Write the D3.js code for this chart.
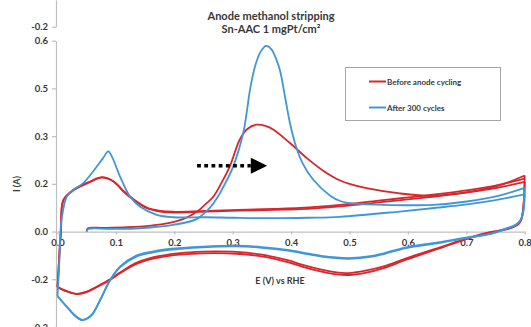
<!DOCTYPE html>
<html>
<head>
<meta charset="utf-8">
<script src="https://cdn.jsdelivr.net/npm/d3@7"></script>
<style>
  html, body { margin: 0; padding: 0; background: #fff; overflow: hidden; }
  svg { display: block; }
  text { font-family: Lato, "Open Sans", sans-serif; font-weight: bold; fill: #383838; }
</style>
</head>
<body>
<div id="chart"></div>
<script>
// ---- Data: potential E (V vs RHE) and current I (A) for each scan ----
const xTickValues = [0, 0.1, 0.2, 0.3, 0.4, 0.5, 0.6, 0.7, 0.8];
const yTickValues = [0.8, 0.6, 0.4, 0.2, 0, -0.2, -0.4];
const yTickLabels = ["0.6", "0.5", "0.3", "0.2", "0.0", "-0.2", "-0.3"];
const topTickValues = [-0.2];
const topTickLabels = ["-0.2"];

const seriesNames = ["Before anode cycling", "After 300 cycles"];

// Before anode cycling
const redForward1 = [[0.050,0.000],[0.052,0.014],[0.08,0.015],[0.12,0.018],[0.16,0.025],[0.19,0.035],[0.215,0.052],[0.24,0.085],[0.255,0.118],[0.267,0.147],[0.281,0.205],[0.295,0.273],[0.312,0.385],[0.325,0.430],[0.341,0.448],[0.356,0.443],[0.370,0.427],[0.398,0.371],[0.427,0.308],[0.455,0.255],[0.472,0.229],[0.484,0.214],[0.500,0.200],[0.529,0.182],[0.586,0.160],[0.643,0.150],[0.701,0.165],[0.758,0.195],[0.800,0.235]];
const redReverse1 = [[0.800,0.235],[0.799,0.150],[0.797,0.090],[0.794,0.050],[0.788,0.030],[0.775,0.015],[0.755,0.004],[0.735,-0.006],[0.700,-0.030],[0.655,-0.066],[0.597,-0.112],[0.560,-0.145],[0.525,-0.165],[0.499,-0.174],[0.475,-0.170],[0.452,-0.160],[0.420,-0.140],[0.394,-0.120],[0.350,-0.097],[0.307,-0.085],[0.270,-0.083],[0.249,-0.084],[0.210,-0.090],[0.191,-0.096],[0.160,-0.110],[0.134,-0.132],[0.107,-0.172],[0.090,-0.200],[0.067,-0.231],[0.050,-0.252],[0.033,-0.261],[0.016,-0.250],[0.000,-0.233]];
const redForward2 = [[0.000,-0.233],[0.002,-0.150],[0.004,-0.060],[0.006,0.000],[0.010,0.133],[0.027,0.175],[0.056,0.210],[0.076,0.228],[0.096,0.210],[0.113,0.168],[0.130,0.133],[0.153,0.098],[0.176,0.084],[0.198,0.080],[0.255,0.084],[0.370,0.091],[0.415,0.094],[0.484,0.106],[0.550,0.122],[0.600,0.135],[0.650,0.148],[0.700,0.163],[0.750,0.182],[0.800,0.208]];
const redReverse2 = [[0.800,0.208],[0.799,0.140],[0.797,0.085],[0.794,0.048],[0.788,0.028],[0.775,0.013],[0.755,0.002],[0.735,-0.008],[0.700,-0.032],[0.655,-0.070],[0.597,-0.118],[0.560,-0.152],[0.525,-0.174],[0.499,-0.182],[0.475,-0.178],[0.452,-0.168],[0.420,-0.148],[0.394,-0.128],[0.350,-0.104],[0.307,-0.093],[0.270,-0.090],[0.249,-0.091],[0.210,-0.097],[0.191,-0.102],[0.160,-0.116],[0.134,-0.137],[0.107,-0.175],[0.090,-0.203],[0.067,-0.233],[0.050,-0.254],[0.033,-0.262],[0.016,-0.251],[0.000,-0.234]];
const redForward3 = [[0.000,-0.234],[0.002,-0.150],[0.004,-0.060],[0.006,0.000],[0.010,0.130],[0.027,0.172],[0.056,0.208],[0.076,0.226],[0.096,0.210],[0.113,0.170],[0.130,0.136],[0.153,0.101],[0.176,0.087],[0.198,0.083],[0.255,0.087],[0.370,0.095],[0.415,0.099],[0.484,0.112],[0.550,0.130],[0.600,0.143],[0.650,0.157],[0.700,0.173],[0.750,0.193],[0.800,0.222]];

// After 300 cycles
const blueForward1 = [[0.050,0.000],[0.052,0.010],[0.090,0.011],[0.141,0.014],[0.198,0.028],[0.238,0.052],[0.261,0.100],[0.278,0.160],[0.290,0.215],[0.301,0.273],[0.318,0.413],[0.324,0.500],[0.330,0.600],[0.338,0.690],[0.347,0.750],[0.357,0.778],[0.366,0.765],[0.375,0.720],[0.381,0.675],[0.390,0.560],[0.398,0.455],[0.408,0.360],[0.420,0.285],[0.438,0.217],[0.467,0.150],[0.484,0.128],[0.501,0.119],[0.557,0.112],[0.643,0.112],[0.701,0.126],[0.758,0.152],[0.800,0.183]];
const blueReverse1 = [[0.800,0.183],[0.799,0.120],[0.797,0.080],[0.793,0.050],[0.785,0.030],[0.770,0.015],[0.742,-0.009],[0.700,-0.025],[0.655,-0.044],[0.597,-0.066],[0.560,-0.090],[0.539,-0.102],[0.499,-0.111],[0.452,-0.102],[0.420,-0.088],[0.394,-0.077],[0.350,-0.065],[0.307,-0.059],[0.249,-0.063],[0.191,-0.073],[0.160,-0.085],[0.134,-0.102],[0.107,-0.147],[0.090,-0.203],[0.073,-0.287],[0.060,-0.345],[0.052,-0.362],[0.042,-0.370],[0.030,-0.352],[0.016,-0.315],[0.000,-0.270]];
const blueForward2 = [[0.000,-0.270],[0.002,-0.180],[0.004,-0.080],[0.005,0.000],[0.009,0.082],[0.016,0.147],[0.027,0.174],[0.044,0.203],[0.061,0.252],[0.078,0.308],[0.087,0.336],[0.094,0.310],[0.107,0.231],[0.124,0.147],[0.141,0.105],[0.170,0.070],[0.198,0.060],[0.255,0.060],[0.300,0.058],[0.369,0.056],[0.430,0.058],[0.484,0.062],[0.586,0.084],[0.650,0.100],[0.701,0.114],[0.750,0.132],[0.800,0.156]];
const blueReverse2 = [[0.800,0.156],[0.799,0.110],[0.797,0.075],[0.793,0.048],[0.785,0.028],[0.770,0.013],[0.742,-0.010],[0.700,-0.027],[0.655,-0.047],[0.597,-0.069],[0.560,-0.093],[0.539,-0.105],[0.499,-0.114],[0.452,-0.105],[0.420,-0.091],[0.394,-0.080],[0.350,-0.068],[0.307,-0.062],[0.249,-0.066],[0.191,-0.077],[0.160,-0.089],[0.134,-0.106],[0.107,-0.150],[0.090,-0.205],[0.073,-0.288],[0.060,-0.346],[0.052,-0.363],[0.042,-0.371],[0.030,-0.353],[0.016,-0.316],[0.000,-0.271]];

const redScans = [redForward1, redReverse1, redForward2, redReverse2, redForward3];
const blueScans = [blueForward1, blueReverse1, blueForward2, blueReverse2];

// Arrow annotation (data units): dotted shaft start, head base, head tip, level
const arrowShaft = [0.239, 0.331];
const arrowTip = 0.359;
const arrowLevel = 0.276;

// ---- Layout ----
const W = 531, H = 327;
const RED = "#d7262c", BLUE = "#4096d8", AXIS = "#bfbfbf";

const svg = d3.select("#chart").append("svg").attr("width", W).attr("height", H);

const x = d3.scaleLinear().domain([0, 0.8]).range([57.5, 524.7]);
const y = d3.scaleLinear().domain([-0.4, 0.8]).range([327, 40.7]);
const yTop = d3.scaleLinear().domain([-0.2, -0.2 + 26.7 / 238.6]).range([26.7, 0]);

// Partial axis remaining from the panel above
const topAxis = svg.append("g").attr("transform", "translate(56,0)")
  .call(d3.axisLeft(yTop).tickValues(topTickValues).tickSizeInner(4).tickSizeOuter(0).tickPadding(4)
    .tickFormat((d, i) => topTickLabels[i]));

// Y axis
const yAxis = svg.append("g").attr("transform", "translate(56,0)")
  .call(d3.axisLeft(y).tickValues(yTickValues).tickSizeInner(4).tickSizeOuter(0).tickPadding(4)
    .tickFormat((d, i) => yTickLabels[i]));

// X axis along I = 0
const xAxis = svg.append("g").attr("transform", `translate(0,${y(0)})`)
  .call(d3.axisBottom(x).tickValues(xTickValues).tickSizeInner(3).tickSizeOuter(0).tickPadding(5)
    .tickFormat(d3.format(".1f")));

[topAxis, yAxis, xAxis].forEach(g => {
  g.selectAll("path.domain").attr("stroke", AXIS).attr("stroke-width", 1.2);
  g.selectAll(".tick line").attr("stroke", AXIS).attr("stroke-width", 1.2);
  g.selectAll(".tick text").style("font-size", "9.5px").style("font-family", "Lato, sans-serif")
    .style("font-weight", "bold").attr("fill", "#383838");
});

// Axis titles
svg.append("text").attr("x", 280).attr("y", 284).attr("text-anchor", "middle")
  .style("font-size", "9px").text("E (V) vs RHE");
svg.append("text").attr("transform", "translate(20,184) rotate(-90)").attr("text-anchor", "middle")
  .style("font-size", "9px").text("I (A)");

// Title
svg.append("text").attr("x", 271).attr("y", 20).attr("text-anchor", "middle")
  .style("font-size", "11px").attr("fill", "#333").text("Anode methanol stripping");
svg.append("text").attr("x", 271).attr("y", 33).attr("text-anchor", "middle")
  .style("font-size", "11px").attr("fill", "#333").text("Sn-AAC 1 mgPt/cm²");

// Scans
const line = d3.line().x(d => x(d[0])).y(d => y(d[1])).curve(d3.curveCatmullRom.alpha(0.5));
const plot = svg.append("g");
function drawScans(scans, color) {
  plot.append("g").selectAll("path").data(scans).join("path")
    .attr("d", line).attr("fill", "none").attr("stroke", color)
    .attr("stroke-width", 1.8).attr("stroke-linejoin", "round");
}
drawScans(redScans, RED);
drawScans(blueScans, BLUE);

// Arrow
const ay = y(arrowLevel);
svg.append("line").attr("x1", x(arrowShaft[0])).attr("x2", x(arrowShaft[1]))
  .attr("y1", ay).attr("y2", ay).attr("stroke", "#000").attr("stroke-width", 3.6)
  .attr("stroke-dasharray", "3.8,3.4");
svg.append("path")
  .attr("d", `M${x(arrowShaft[1])},${ay - 8}L${x(arrowTip)},${ay}L${x(arrowShaft[1])},${ay + 8}Z`)
  .attr("fill", "#000");

// Legend
const legend = svg.append("g");
legend.append("rect").attr("x", 345.5).attr("y", 67.5).attr("width", 155).attr("height", 53)
  .attr("fill", "#fff").attr("stroke", "#a6a6a6").attr("stroke-width", 1);
const legendItems = [{ name: seriesNames[0], color: RED }, { name: seriesNames[1], color: BLUE }];
legendItems.forEach((item, i) => {
  const ly = 81.5 + i * 26;
  legend.append("line").attr("x1", 369).attr("x2", 386).attr("y1", ly).attr("y2", ly)
    .attr("stroke", item.color).attr("stroke-width", 2);
  legend.append("text").attr("x", 387).attr("y", ly + 3).style("font-size", "8px").text(item.name);
});
</script>
</body>
</html>
